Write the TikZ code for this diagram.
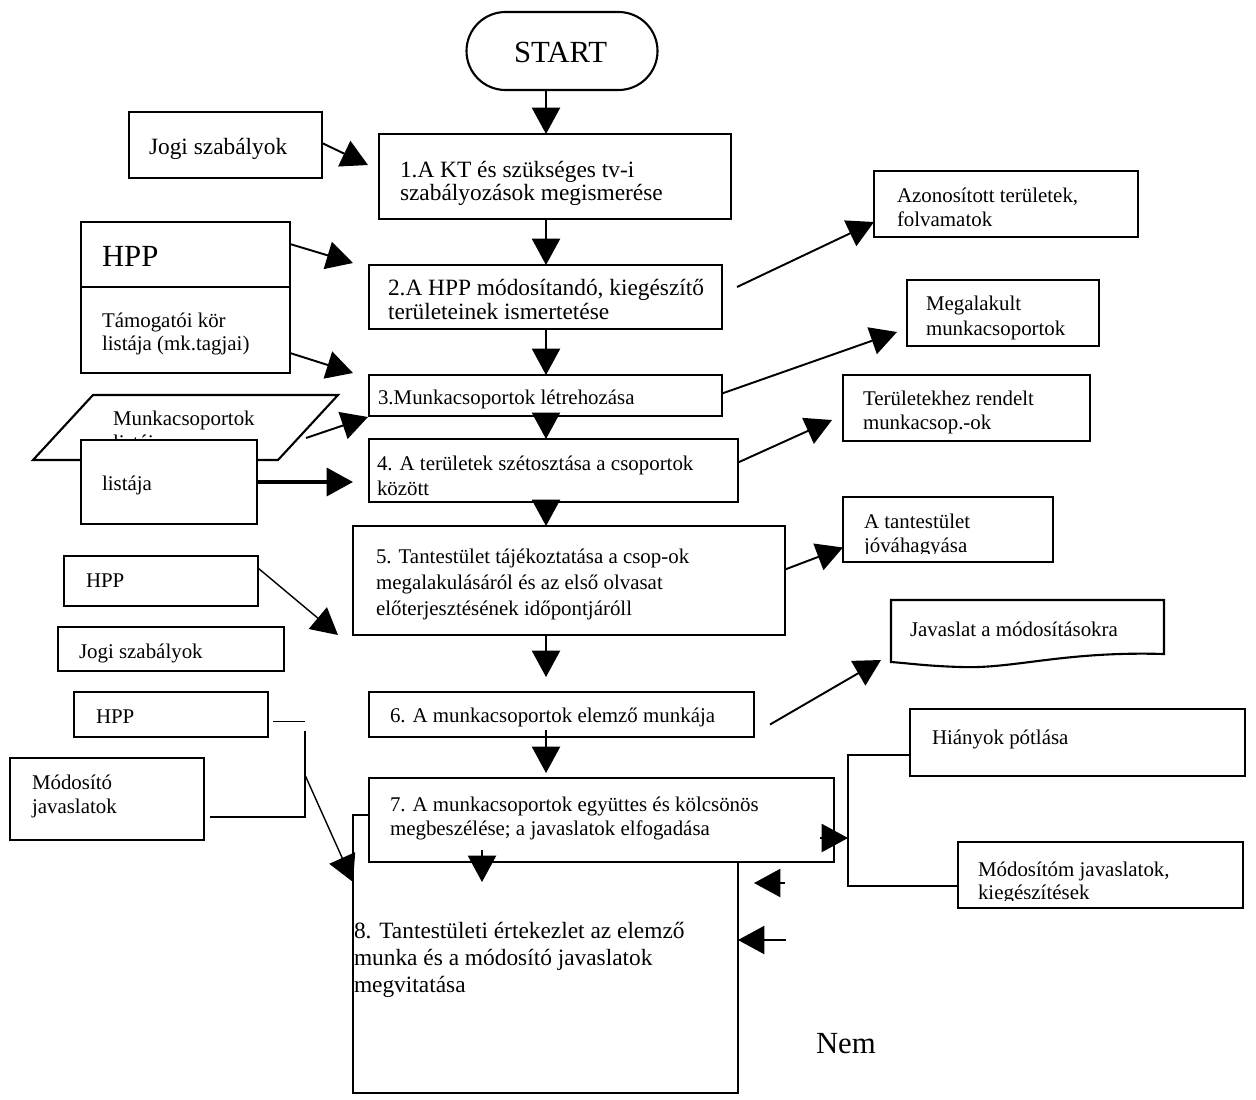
\documentclass[tikz,border=0pt]{standalone}
\usepackage{fontspec}
\setmainfont{Liberation Serif}
\usetikzlibrary{arrows.meta,calc,shapes.misc}
\newlength\px
\setlength\px{0.02cm}
\newcommand\fsA{\fontsize{11.9pt}{14pt}\selectfont}
\newcommand\fsB{\fontsize{13.3pt}{15pt}\selectfont}
\newcommand\fsC{\fontsize{17.5pt}{20pt}\selectfont}
\tikzset{
  box/.style={draw, line width=1.2pt, fill=white, inner sep=0pt, outer sep=0pt, anchor=north west, rectangle},
  lbl/.style={anchor=base west, inner sep=0pt, outer sep=0pt, font=\fsA},
  lblB/.style={lbl, font=\fsB},
  lblC/.style={lbl, font=\fsC},
  arr/.style={line width=1.1pt, -{Triangle[length=15pt,width=16pt]}},
  thinarr/.style={line width=0.8pt, -{Triangle[length=15pt,width=16pt]}},
  conn/.style={line width=0.8pt},
}
\begin{document}
\begin{tikzpicture}[x=0.02cm, y=-0.02cm]
\useasboundingbox (0,0) rectangle (1256,1099);
\fill[white] (0,0) rectangle (1256,1099);
\coordinate (sp) at (546,0);

% START
\node[draw, line width=1.2pt, rounded rectangle, minimum width=191\px, minimum height=78\px, inner sep=0pt] (st) at (562,51) {};
\node[lblC] (stt) at (514,62) {START};

% left column
\node[box, minimum width=193\px, minimum height=66\px] (j1) at (129,112) {};
\node[lblB] (j1t) at (149,154) {Jogi szabályok};

\node[box, minimum width=209\px, minimum height=151\px] (hpp) at (81,222) {};
\draw[line width=1.2pt] ($(hpp.north west)+(0,65)$) -- ($(hpp.north east)+(0,65)$);
\node[lblC] (hppt) at (102,266) {HPP};
\node[lbl] (hppa) at (102,327) {Támogatói kör};
\node[lbl] (hppb) at (102,350) {listája (mk.tagjai)};

\draw[line width=1.2pt] (33,460) -- (93,395) -- (338,395) -- (278,460) -- cycle;
\node[lbl] (para) at (113,425) {Munkacsoportok};
\node[lbl] (parb) at (113,449) {listája};
\coordinate (parA) at (306,438);

\node[box, minimum width=176\px, minimum height=84\px] (lst) at (81,440) {};
\node[lbl] (lstt) at (102,490) {listája};

\node[box, minimum width=194\px, minimum height=50\px] (h2) at (64,556) {};
\node[lbl] (h2t) at (86,587) {HPP};
\node[box, minimum width=226\px, minimum height=44\px] (j2) at (58,627) {};
\node[lbl] (j2t) at (79,658) {Jogi szabályok};
\node[box, minimum width=194\px, minimum height=45\px] (h3) at (74,692) {};
\node[lbl] (h3t) at (96,723) {HPP};
\node[box, minimum width=194\px, minimum height=82\px] (mod) at (10,758) {};
\node[lbl] (moda) at (32,789) {Módosító};
\node[lbl] (modb) at (32,813) {javaslatok};

% main column
\node[box, minimum width=352\px, minimum height=85\px] (b1) at (379,134) {};
\node[lblB] (b1a) at (400,177) {1.A KT és szükséges tv-i};
\node[lblB] (b1b) at (400,200) {szabályozások megismerése};

\node[box, minimum width=353\px, minimum height=64\px] (b2) at (369,265) {};
\node[lblB] (b2a) at (388,295) {2.A HPP módosítandó, kiegészítő};
\node[lblB] (b2b) at (388,319) {területeinek ismertetése};

\node[box, minimum width=353\px, minimum height=41\px] (b3) at (369,375) {};
\node[lbl] (b3a) at (378,404) {3.Munkacsoportok létrehozása};

\node[box, minimum width=369\px, minimum height=63\px] (b4) at (369,439) {};
\node[lbl] (b4a) at (377,470) {4. A területek szétosztása a csoportok};
\node[lbl] (b4b) at (377,495) {között};

\node[box, minimum width=432\px, minimum height=109\px] (b5) at (353,526) {};
\node[lbl] (b5a) at (376,563) {5. Tantestület tájékoztatása a csop-ok};
\node[lbl] (b5b) at (376,589) {megalakulásáról és az első olvasat};
\node[lbl] (b5c) at (376,615) {előterjesztésének időpontjáróll};

\node[box, minimum width=385\px, minimum height=45\px] (b6) at (369,692) {};
\node[lbl] (b6a) at (390,722) {6. A munkacsoportok elemző munkája};

\node[box, minimum width=385\px, minimum height=278\px] (b8) at (353,815) {};
\node[lblB] (b8a) at (354,938) {8. Tantestületi értekezlet az elemző};
\node[lblB] (b8b) at (354,965) {munka és a módosító javaslatok};
\node[lblB] (b8c) at (354,992) {megvitatása};

\node[box, minimum width=465\px, minimum height=84\px] (b7) at (369,778) {};
\node[lbl] (b7a) at (390,811) {7. A munkacsoportok együttes és kölcsönös};
\node[lbl] (b7b) at (390,835) {megbeszélése; a javaslatok elfogadása};

% right column
\node[box, minimum width=264\px, minimum height=66\px] (az) at (874,171) {};
\node[lbl] (aza) at (897,202) {Azonosított területek,};
\node[lbl] (azb) at (897,226) {folvamatok};

\node[box, minimum width=192\px, minimum height=66\px] (meg) at (907,280) {};
\node[lbl] (mega) at (926,310) {Megalakult};
\node[lbl] (megb) at (926,335) {munkacsoportok};

\node[box, minimum width=247\px, minimum height=66\px] (ter) at (843,375) {};
\node[lbl] (tera) at (863,405) {Területekhez rendelt};
\begin{scope}
\clip (ter.north west) rectangle ($(ter.south east)+(0,-8)$);
\node[lbl] (terb) at (863,429) {munkacsop.-ok};
\end{scope}

\node[box, minimum width=210\px, minimum height=65\px] (tan) at (843,497) {};
\node[lbl] (tana) at (864,528) {A tantestület};
\begin{scope}
\clip (tan.north west) rectangle ($(tan.south east)+(0,-9)$);
\node[lbl] (tanb) at (864,552) {jóváhagyása};
\end{scope}

\node[inner sep=0pt, outer sep=0pt, anchor=north west, minimum width=273\px, minimum height=62\px] (jav) at (891,600) {};
\draw[line width=1.2pt] (jav.north west) -- (jav.north east) -- ($(jav.north east)+(0,54)$)
  .. controls ($(jav.north east)+(-100,51)$) and ($(jav.north east)+(-150,69)$) .. ($(jav.north west)+(70,67)$)
  .. controls ($(jav.north west)+(35,66)$) and ($(jav.north west)+(15,63)$) .. ($(jav.north west)+(0,62)$) -- cycle;
\node[lbl] (javt) at (910,636) {Javaslat a módosításokra};

\node[box, minimum width=335\px, minimum height=67\px] (hia) at (910,709) {};
\node[lbl] (hiat) at (932,744) {Hiányok pótlása};

\node[box, minimum width=285\px, minimum height=66\px] (mdm) at (958,842) {};
\node[lbl] (mdma) at (978,876) {Módosítóm javaslatok,};
\begin{scope}
\clip (mdm.north west) rectangle ($(mdm.south east)+(0,-8)$);
\node[lbl] (mdmb) at (978,899) {kiegészítések};
\end{scope}

\node[lblC] (nem) at (816,1053) {Nem};

% spine arrows
\draw[arr] (st.south -| sp) -- (b1.north -| sp);
\draw[arr] (b1.south -| sp) -- (b2.north -| sp);
\draw[arr] (b2.south -| sp) -- (b3.north -| sp);
\draw[arr] (b3.south -| sp) -- (b4.north -| sp);
\draw[arr] (b4.south -| sp) -- (b5.north -| sp);
\draw[arr] (b5.south -| sp) -- ($(b6.north -| sp)+(0,-15)$);
\draw[arr] ($(b6.south -| sp)+(0,-7)$) -- ($(b7.north -| sp)+(0,-5)$);
\draw[arr] ($(b7.south west)+(113,-12)$) -- ($(b7.south west)+(113,20)$);

% inputs from left
\draw[arr] ($(j1.north east)+(0,31)$) -- ($(b1.north west)+(-11,31)$);
\draw[arr] ($(hpp.north east)+(0,22)$) -- ($(b2.north west)+(-16,-2)$);
\draw[arr] ($(hpp.south east)+(0,-20)$) -- ($(b3.north west)+(-16,-2)$);
\draw[arr] (parA) -- ($(b3.south west)+(-1,1)$);
\draw[line width=1.8pt, -{Triangle[length=15pt,width=16pt]}] (lst.east) -- ($(lst.east -| b4.west)+(-16,0)$);
\draw[thinarr] ($(h2.east)+(0,-13)$) -- ($(b5.south west)+(-15,0)$);
\draw[conn] ($(h3.east)+(5,7)$) -- ($(h3.east)+(37,7)$);
\draw[conn] ($(mod.east)+(6,18)$) -| ($(h3.east)+(37,16)$);
\coordinate (jn) at (305,775);
\draw[thinarr] (jn) -- ($(b8.north west)+(0,67)$);

% outputs to right
\draw[arr] ($(b2.east)+(15,-10)$) -- ($(az.south west)+(0,-15)$);
\draw[arr] ($(b3.east)+(0,-2)$) -- ($(meg.south west)+(-10,-14)$);
\draw[arr] ($(b4.east)+(0,-8)$) -- ($(ter.south west)+(-11,-21)$);
\draw[arr] ($(b5.east)+(0,-11)$) -- ($(tan.west)+(0,18)$);
\draw[arr] ($(b6.east)+(16,10)$) -- ($(jav.south west)+(-10,-2)$);

% bracket to Hiányok / Módosítóm
\draw[conn, line width=1pt] ($(hia.south west)+(0,-21)$) -| ($(b7.east)+(14,0)$) |- ($(mdm.north west)+(0,44)$);
\draw[arr] ($(b7.east)+(-14,18)$) -- ($(b7.east)+(14,18)$);

% feedback into 8
\draw[arr] ($(b8.north east)+(47,68)$) -- ($(b8.north east)+(16,68)$);
\draw[arr] ($(b8.north east)+(48,125)$) -- ($(b8.north east)+(0,125)$);
\end{tikzpicture}
\end{document}
